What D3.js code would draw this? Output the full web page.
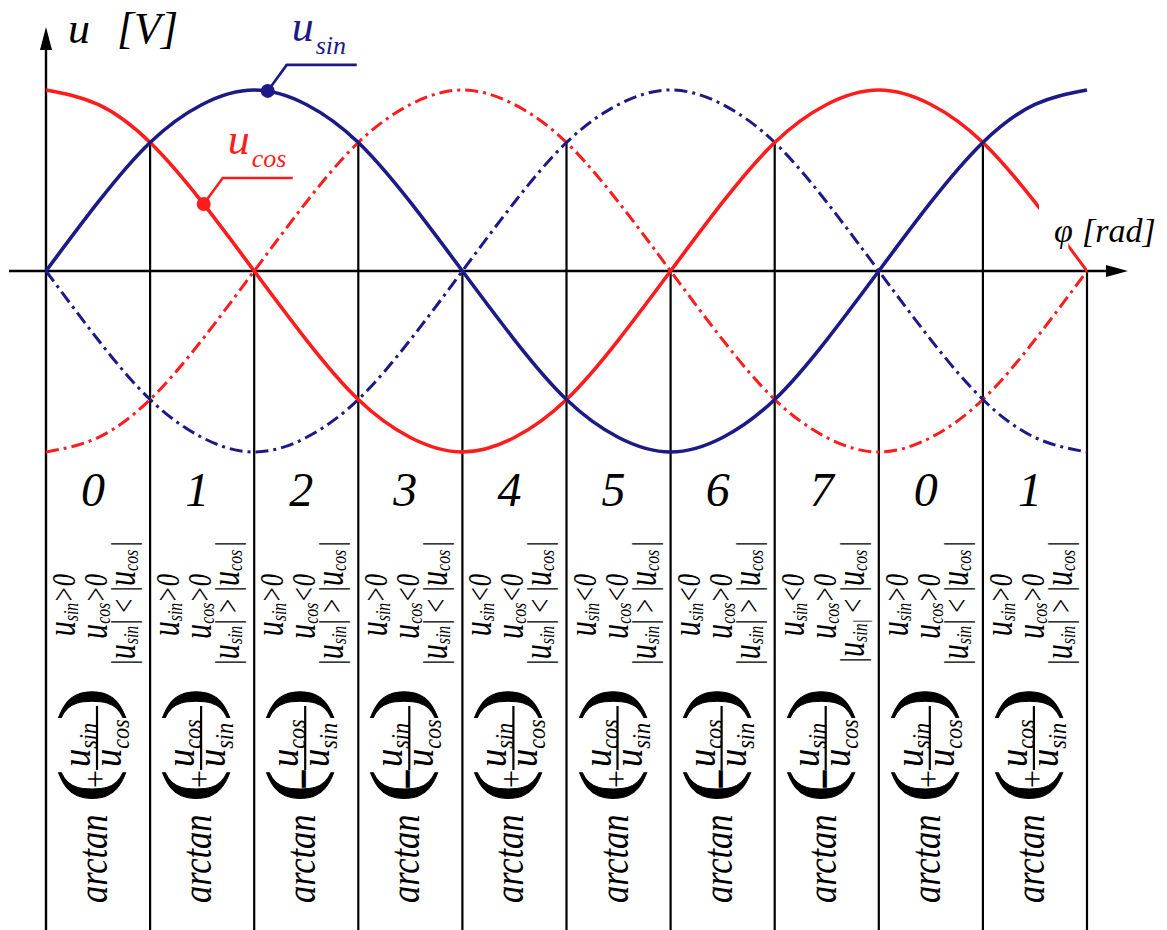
<!DOCTYPE html>
<html>
<head>
<meta charset="utf-8">
<script src="https://cdn.jsdelivr.net/npm/d3@7"></script>
<style>
  html, body { margin: 0; padding: 0; background: #fff; }
  svg text { font-family: "Liberation Serif", "Times New Roman", serif; }
</style>
</head>
<body>
<svg id="chart" width="1167" height="930"></svg>
<script>
// Electrical angle, in units of π/4 (one octant per unit), sampled every π/8
const anglePos = [0, 0.5, 1, 1.5, 2, 2.5, 3, 3.5, 4, 4.5, 5, 5.5, 6, 6.5, 7, 7.5, 8, 8.5, 9, 9.5, 10];
// Normalised resolver voltages
const uSin = [0, 0.38, 0.71, 0.92, 1, 0.92, 0.71, 0.38, 0, -0.38, -0.71, -0.92, -1, -0.92, -0.71, -0.38, 0, 0.38, 0.71, 0.92, 1];
const uCos = [1, 0.92, 0.71, 0.38, 0, -0.38, -0.71, -0.92, -1, -0.92, -0.71, -0.38, 0, 0.38, 0.71, 0.92, 1, 0.92, 0.71, 0.38, 0];

// Octant boundaries and the voltage where each boundary line begins
const boundaries = [0, 1, 2, 3, 4, 5, 6, 7, 8, 9, 10];
const boundaryTop = [0, 0.71, 0, 0.71, 0, 0.71, 0, 0.71, 0, 0.71, 0];

// Octant codes and the decision table of each octant
const octantCodes = ["0", "1", "2", "3", "4", "5", "6", "7", "0", "1"];
const sinRel = [">", ">", ">", ">", "<", "<", "<", "<", ">", ">"];
const cosRel = [">", ">", "<", "<", "<", "<", ">", ">", ">", ">"];
const magRel = ["<", ">", ">", "<", "<", ">", ">", "<", "<", ">"];
const magSinSub = ["sin", "sin", "sin", "sin", "sin", "sin", "sin", "sin|", "sin", "sin"];
const fracSign = ["+", "+", "−", "−", "+", "+", "−", "−", "+", "+"];
const fracNum = ["sin", "cos", "cos", "sin", "sin", "cos", "cos", "sin", "sin", "cos"];
const fracDen = ["cos", "sin", "sin", "cos", "cos", "sin", "sin", "cos", "cos", "sin"];

// Stretches of u_cos drawn as a full line
const cosSolidSpans = [[0, 9.54], [9.85, 10]];
// Callout markers on the two signals
const callouts = [
  { key: "sin", pos: 2.13, value: 0.995, label: "u", sub: "sin" },
  { key: "cos", pos: 1.515, value: 0.37, label: "u", sub: "cos" }
];

const SERIF = "Liberation Serif, Times New Roman, serif";
const BLUE = "#1d1a87";
const RED = "#ff1c1c";
const INK = "#000";

const svg = d3.select("#chart");
const W = 1167, H = 930;

const x = d3.scaleLinear().domain([0, 10]).range([46, 1087]);
const y = d3.scaleLinear().domain([-1, 1]).range([452, 90]);

const line = d3.line()
  .x(d => x(d.pos))
  .y(d => y(d.v))
  .curve(d3.curveNatural);

const sinPts = anglePos.map((p, i) => ({ pos: p, v: uSin[i] }));
const cosPts = anglePos.map((p, i) => ({ pos: p, v: uCos[i] }));
const negSinPts = sinPts.map(d => ({ pos: d.pos, v: -d.v }));
const negCosPts = cosPts.map(d => ({ pos: d.pos, v: -d.v }));

function txt(sel) {
  return sel.append("text").attr("font-family", SERIF).attr("fill", INK);
}

// ---- octant boundary lines ----
svg.append("g").selectAll("line")
  .data(boundaries.slice(1))
  .join("line")
  .attr("x1", d => x(d)).attr("x2", d => x(d))
  .attr("y1", d => y(boundaryTop[d]))
  .attr("y2", H)
  .attr("stroke", INK).attr("stroke-width", 2.2);

// ---- axes ----
const y0 = y(0);
svg.append("line")
  .attr("x1", 9).attr("x2", 1110).attr("y1", y0).attr("y2", y0)
  .attr("stroke", INK).attr("stroke-width", 2.4);
svg.append("path")
  .attr("d", `M${1128},${y0} L${1106},${y0 - 6} L${1106},${y0 + 6} Z`)
  .attr("fill", INK);
svg.append("line")
  .attr("x1", x(0)).attr("x2", x(0)).attr("y1", H).attr("y2", 45)
  .attr("stroke", INK).attr("stroke-width", 2.4);
svg.append("path")
  .attr("d", `M${x(0)},27 L${x(0) - 6},50 L${x(0) + 6},50 Z`)
  .attr("fill", INK);

// ---- negated signals (dash-dot) ----
const dash = "13,5,3,5";
svg.append("path").attr("d", line(negCosPts))
  .attr("fill", "none").attr("stroke", RED).attr("stroke-width", 3)
  .attr("stroke-dasharray", dash);
svg.append("path").attr("d", line(negSinPts))
  .attr("fill", "none").attr("stroke", BLUE).attr("stroke-width", 3)
  .attr("stroke-dasharray", dash);

// ---- u_cos (full line, clipped to its drawn stretches) ----
const defs = svg.append("defs");
cosSolidSpans.forEach((s, i) => {
  defs.append("clipPath").attr("id", "cosClip" + i)
    .append("rect")
    .attr("x", x(s[0]) - 3).attr("width", x(s[1]) - x(s[0]) + 3)
    .attr("y", 0).attr("height", H);
  svg.append("path").attr("d", line(cosPts))
    .attr("clip-path", `url(#cosClip${i})`)
    .attr("fill", "none").attr("stroke", RED)
    .attr("stroke-width", i === 0 ? 3.6 : 3);
});

// ---- u_sin (full line) ----
svg.append("path").attr("d", line(sinPts))
  .attr("fill", "none").attr("stroke", BLUE).attr("stroke-width", 3.6);

// ---- callouts ----
callouts.forEach(c => {
  const col = c.key === "sin" ? BLUE : RED;
  const cx = x(c.pos), cy = y(c.value);
  const kx = cx + 19, ky = cy - 26;
  svg.append("path")
    .attr("d", `M${cx},${cy} L${kx},${ky} L${kx + 70},${ky}`)
    .attr("fill", "none").attr("stroke", col).attr("stroke-width", 2.6);
  svg.append("circle").attr("cx", cx).attr("cy", cy).attr("r", 7).attr("fill", col);
  const t = txt(svg).attr("x", kx + 5).attr("y", ky - 24)
    .attr("fill", col).attr("font-style", "italic");
  t.append("tspan").attr("font-size", 44).text(c.label);
  t.append("tspan").attr("font-size", 26).attr("dx", 2).attr("dy", 13).text(c.sub);
});

// ---- axis titles ----
const yTitle = txt(svg).attr("x", 68).attr("y", 43)
  .attr("font-style", "italic").attr("font-size", 44);
yTitle.append("tspan").text("u");
yTitle.append("tspan").attr("x", 117).text("[V]");

const xTitle = txt(svg).attr("x", 1054).attr("y", 242)
  .attr("font-style", "italic").attr("font-size", 34);
xTitle.append("tspan").text("φ");
xTitle.append("tspan").attr("x", 1082).text("[rad]");

// ---- octant codes ----
svg.append("g").selectAll("text")
  .data(octantCodes)
  .join("text")
  .attr("font-family", SERIF)
  .attr("x", (d, i) => x(i + 0.5) - 5)
  .attr("y", 506)
  .attr("text-anchor", "middle")
  .attr("font-style", "italic")
  .attr("font-size", 48)
  .attr("fill", INK)
  .text(d => d);

// ---- rotated decision table and formulas ----
const SQ = 0.72;  // compression of the decision table along its reading direction
const SQF = 0.8;  // same for the formulas

function rotated(sx, sy) {
  return svg.append("g").attr("transform", `translate(${sx},${sy}) rotate(-90)`);
}

function condText(g, parts) {
  const t = txt(g.append("g").attr("transform", `scale(${SQ},1)`))
    .attr("text-anchor", "end")
    .attr("font-style", "italic");
  parts.forEach(p => {
    const s = t.append("tspan").attr("font-size", p.size).text(p.text);
    if (p.dy) s.attr("dy", p.dy);
  });
  return t;
}

octantCodes.forEach((code, i) => {
  const L = x(i);

  // u_sin sign
  condText(rotated(L + 29, 574), [
    { text: "u", size: 42 },
    { text: "sin", size: 22, dy: 3 },
    { text: sinRel[i] + "0", size: 34, dy: -3 }
  ]);

  // u_cos sign
  condText(rotated(L + 61, 574), [
    { text: "u", size: 42 },
    { text: "cos", size: 22, dy: 3 },
    { text: cosRel[i] + "0", size: 34, dy: -3 }
  ]);

  // magnitude comparison
  const closesInSub = magSinSub[i].endsWith("|");
  condText(rotated(L + 89, 541), [
    { text: "|", size: 34 },
    { text: "u", size: 42 },
    { text: magSinSub[i], size: 22, dy: 3 },
    { text: (closesInSub ? "" : "|") + "\u2009" + magRel[i] + "\u2009|", size: 34, dy: -3 },
    { text: "u", size: 42 },
    { text: "cos", size: 22, dy: 3 },
    { text: "\u200A|", size: 34, dy: -3 }
  ]);

  // arctan( ± num / den )
  const f = rotated(L + 61, 903);
  txt(f.append("g").attr("transform", `scale(${SQF},1)`))
    .attr("font-style", "italic").attr("font-size", 43)
    .text("arctan");

  txt(f.append("g").attr("transform", "translate(117,3) scale(1.35,1)"))
    .attr("text-anchor", "middle").attr("font-size", 74)
    .attr("stroke", INK).attr("stroke-width", 0.8)
    .text("(");
  txt(f.append("g").attr("transform", "translate(199,3) scale(1.35,1)"))
    .attr("text-anchor", "middle").attr("font-size", 74)
    .attr("stroke", INK).attr("stroke-width", 0.8)
    .text(")");

  const minus = fracSign[i] === "−";
  txt(f).attr("x", 124).attr("y", minus ? 0 : -1)
    .attr("text-anchor", "middle")
    .attr("font-size", minus ? 34 : 32)
    .attr("font-weight", minus ? "bold" : "normal")
    .attr("stroke", minus ? INK : "none").attr("stroke-width", minus ? 1.8 : 0)
    .text(fracSign[i]);

  f.append("line")
    .attr("x1", 133).attr("x2", 197).attr("y1", -10).attr("y2", -10)
    .attr("stroke", INK).attr("stroke-width", 2.2);

  const num = txt(f.append("g").attr("transform", `translate(136,-17) scale(0.85,1)`))
    .attr("font-style", "italic");
  num.append("tspan").attr("font-size", 43).text("u");
  num.append("tspan").attr("font-size", 26).attr("dy", 7).text(fracNum[i]);

  const den = txt(f.append("g").attr("transform", `translate(136,14) scale(0.85,1)`))
    .attr("font-style", "italic");
  den.append("tspan").attr("font-size", 43).text("u");
  den.append("tspan").attr("font-size", 26).attr("dy", 8).text(fracDen[i]);
});
</script>
</body>
</html>
